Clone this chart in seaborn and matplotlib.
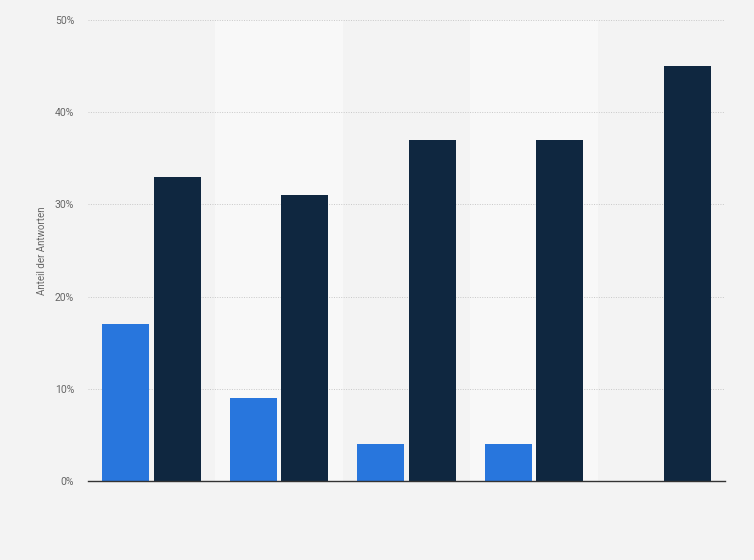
import matplotlib
matplotlib.use("Agg")
import matplotlib.pyplot as plt
from matplotlib.ticker import FuncFormatter
import pandas as pd
import seaborn as sns

# Werte (in Prozent)
gruppen = ["1", "2", "3", "4", "5"]
serien = ["Serie A", "Serie B"]
werte_a = [17, 9, 4, 4, 0]
werte_b = [33, 31, 37, 37, 45]
y_ticks = [0, 10, 20, 30, 40, 50]

df = pd.DataFrame({
    "gruppe": gruppen * 2,
    "serie": [serien[0]] * len(gruppen) + [serien[1]] * len(gruppen),
    "wert": werte_a + werte_b,
})

sns.set_theme(style="white")
plt.rcParams["font.family"] = ["Roboto", "DejaVu Sans"]

bg = "#f3f3f3"
fig = plt.figure(figsize=(7.54, 5.6), dpi=100, facecolor=bg)
ax = fig.add_axes([88 / 754, 79 / 560, 637 / 754, 461 / 560])
ax.set_facecolor(bg)

# hellere Hintergrundbänder für jede zweite Gruppe
for i in range(len(gruppen)):
    if i % 2 == 1:
        ax.axvspan(i - 0.5, i + 0.5, color="#f8f8f8", zorder=0, lw=0)

sns.barplot(data=df, x="gruppe", y="wert", hue="serie",
            palette=["#2876dd", "#0f2740"], saturation=1,
            width=0.81, gap=0.09, linewidth=0, legend=False,
            ax=ax, zorder=3)

ax.set_xlim(-0.5, len(gruppen) - 0.5)
ax.set_ylim(0, 50)
ax.set_yticks(y_ticks)
ax.yaxis.set_major_formatter(FuncFormatter(lambda v, _: f"{v:.0f}%"))
ax.grid(axis="y", color="#c8c8c8", linestyle=(0, (1, 1.5)), linewidth=0.7, zorder=1)
ax.set_axisbelow(True)

ax.set_xticks([])
ax.set_xlabel("")
ax.set_ylabel("Anteil der Antworten", fontsize=7, color="#666666")
ax.yaxis.set_label_coords(-0.064, 0.5)
ax.tick_params(axis="y", labelsize=7.5, labelcolor="#666666", length=0, pad=10)

for s in ["top", "right", "left"]:
    ax.spines[s].set_visible(False)
ax.spines["bottom"].set_color("#333333")
ax.spines["bottom"].set_linewidth(1.0)
ax.spines["bottom"].set_zorder(5)

fig.savefig("out.png", dpi=100, facecolor=bg)
